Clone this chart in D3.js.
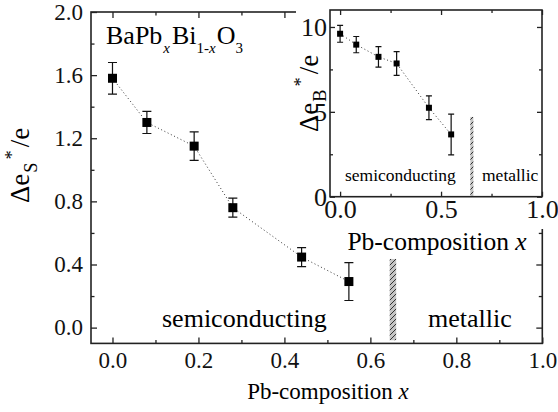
<!DOCTYPE html>
<html>
<head>
<meta charset="utf-8">
<script src="https://cdn.jsdelivr.net/npm/d3@7"></script>
<style>
  body { margin: 0; background: #fff; }
</style>
</head>
<body>
<div id="chart"></div>
<script>
// main panel: charge spread from S-signal
const compX = [0.0, 0.08, 0.19, 0.28, 0.44, 0.55]
const deltaS = [1.58, 1.30, 1.15, 0.76, 0.447, 0.292]
const deltaSErr = [0.10, 0.07, 0.09, 0.06, 0.06, 0.12]

// inset: charge spread from B-signal
const deltaB = [9.6, 8.96, 8.24, 7.85, 5.24, 3.67]
const deltaBErr = [0.5, 0.48, 0.6, 0.7, 0.7, 1.2]

// the semiconductor / metal boundary (hatched bar)
const boundaryX = [0.645, 0.66]
const boundaryMainY = [-0.08, 0.435]
const boundaryInsetY = [0, 4.7]

const mainXTicks = [0, 0.2, 0.4, 0.6, 0.8, 1.0]
const mainXMinor = [0.1, 0.3, 0.5, 0.7, 0.9]
const mainYTicks = [0, 0.4, 0.8, 1.2, 1.6, 2.0]
const mainYMinor = [0.2, 0.6, 1.0, 1.4, 1.8]
const insetXTicks = [0, 0.5, 1.0]
const insetXMinor = [0.25, 0.75]
const insetYTicks = [0, 5, 10]
const insetYMinor = [2.5, 7.5]

const W = 558, H = 412
const SERIF = "'Liberation Serif', 'Times New Roman', Times, serif"

const svg = d3.select("#chart").append("svg")
    .attr("width", W)
    .attr("height", H)
    .style("font-family", SERIF)

const defs = svg.append("defs")
const pat = defs.append("pattern")
    .attr("id", "hatch")
    .attr("patternUnits", "userSpaceOnUse")
    .attr("width", 5).attr("height", 5)
pat.append("rect").attr("width", 5).attr("height", 5).attr("fill", "#c4c4c4")
pat.append("path")
    .attr("d", "M-1,6 L6,-1 M-1,1 L1,-1 M4,6 L6,4")
    .attr("stroke", "#333").attr("stroke-width", 1)

// framed panel with inside ticks on all four sides
function panel(g, x, y, o) {
    const x0 = x.range()[0], x1 = x.range()[1]
    const y0 = y.range()[0], y1 = y.range()[1]

    const axes = [
        [d3.axisBottom(x), y0, 0, o.xTicks, o.xMinor, true],
        [d3.axisTop(x), y1, 0, o.xTicks, o.xMinor, false],
        [d3.axisLeft(y), x0, 1, o.yTicks, o.yMinor, true],
        [d3.axisRight(y), x1, 1, o.yTicks, o.yMinor, false]
    ]
    axes.forEach(([ax, pos, vert, maj, min, lab]) => {
        const tr = vert ? `translate(${pos},0)` : `translate(0,${pos})`
        const a = g.append("g").attr("transform", tr)
            .call(ax.tickValues(maj).tickSize(-o.major).tickPadding(o.pad)
                .tickFormat(lab ? (vert ? o.yFmt : o.xFmt) : ""))
        a.select(".domain").remove()
        a.selectAll("line").attr("stroke", "#222").attr("stroke-width", 1.3)
        a.selectAll("text")
            .style("font-family", SERIF).style("font-size", o.fs + "px")
            .attr("fill", "#111")
        const m = g.append("g").attr("transform", tr)
            .call(ax.tickValues(min).tickSize(-o.minor).tickFormat(""))
        m.select(".domain").remove()
        m.selectAll("line").attr("stroke", "#222").attr("stroke-width", 1.3)
    })
    g.append("rect")
        .attr("x", x0).attr("y", y1)
        .attr("width", x1 - x0).attr("height", y0 - y1)
        .attr("fill", "none").attr("stroke", "#222").attr("stroke-width", 1.6)
}

function series(g, x, y, ys, errs, sq, cap) {
    const line = d3.line().x((d, i) => x(compX[i])).y(d => y(d))
    g.append("path")
        .attr("d", line(ys))
        .attr("fill", "none").attr("stroke", "#333")
        .attr("stroke-width", 1).attr("stroke-dasharray", "1,2.6")
    ys.forEach((v, i) => {
        const cx = x(compX[i])
        const top = y(v + errs[i]), bot = y(v - errs[i])
        g.append("path")
            .attr("d", `M${cx},${top}V${bot}M${cx - cap},${top}H${cx + cap}M${cx - cap},${bot}H${cx + cap}`)
            .attr("stroke", "#111").attr("stroke-width", 1.2).attr("fill", "none")
        g.append("rect")
            .attr("x", cx - sq / 2).attr("y", y(v) - sq / 2)
            .attr("width", sq).attr("height", sq).attr("fill", "#000")
    })
}

function txt(g, x, y, size, str) {
    return g.append("text").attr("x", x).attr("y", y)
        .style("font-family", SERIF).style("font-size", size + "px").text(str)
}

// ylabel like  Δe_S^*/e  (rotated)
function deltaLabel(g, x, y, size, sub) {
    const t = g.append("text").attr("transform", `translate(${x},${y}) rotate(-90)`)
        .style("font-family", SERIF).style("font-size", size + "px")
    t.append("tspan").text("\u0394e")
    t.append("tspan").style("font-size", (size * 0.68) + "px").attr("dy", size * 0.3).attr("dx", 1).text(sub)
    t.append("tspan").style("font-size", (size * 0.68) + "px").attr("dy", -size * 0.72).attr("dx", 3).text("*")
    t.append("tspan").attr("dy", size * 0.42).attr("dx", 3).text("/e")
}

// ---------- main panel
const xScale = d3.scaleLinear().domain([-0.05, 1.0]).range([91, 542.3])
const yScale = d3.scaleLinear().domain([-0.1, 2.0]).range([343.4, 12])
const main = svg.append("g")

main.append("rect")
    .attr("x", xScale(boundaryX[0])).attr("y", yScale(boundaryMainY[1]))
    .attr("width", xScale(boundaryX[1]) - xScale(boundaryX[0]))
    .attr("height", yScale(boundaryMainY[0]) - yScale(boundaryMainY[1]))
    .attr("fill", "url(#hatch)")

panel(main, xScale, yScale, {
    xTicks: mainXTicks, xMinor: mainXMinor, yTicks: mainYTicks, yMinor: mainYMinor,
    major: 6, minor: 3.5, pad: 8, fs: 23,
    xFmt: d3.format(".1f"), yFmt: d3.format(".1f")
})
series(main, xScale, yScale, deltaS, deltaSErr, 9, 4.5)

txt(main, 162, 327, 26, "semiconducting")
txt(main, 428, 327, 26, "metallic")

const title = txt(main, 106, 44, 26, "BaPb")
title.append("tspan").style("font-size", "15px").style("font-style", "italic").attr("dy", 9).attr("dx", 1).text("x")
title.append("tspan").attr("dy", -9).attr("dx", 2).text("Bi")
title.append("tspan").style("font-size", "15px").attr("dy", 9).text("1-")
title.append("tspan").style("font-size", "15px").style("font-style", "italic").text("x")
title.append("tspan").attr("dy", -9).attr("dx", 1).text("O")
title.append("tspan").style("font-size", "15px").attr("dy", 9).text("3")

const xl = txt(main, 328, 399, 23, "Pb-composition ").attr("text-anchor", "middle")
xl.append("tspan").style("font-style", "italic").text("x")

deltaLabel(main, 29, 203, 27, "S")

// ---------- inset
const inset = svg.append("g")
inset.append("rect").attr("x", 296).attr("y", 0).attr("width", W - 296).attr("height", 229)
    .attr("fill", "#fff")

const xi = d3.scaleLinear().domain([-0.05, 1.0]).range([330, 542])
const yi = d3.scaleLinear().domain([0, 11]).range([196.7, 10])

inset.append("rect")
    .attr("x", xi(boundaryX[0])).attr("y", yi(boundaryInsetY[1]))
    .attr("width", xi(boundaryX[1]) - xi(boundaryX[0]))
    .attr("height", yi(boundaryInsetY[0]) - yi(boundaryInsetY[1]))
    .attr("fill", "url(#hatch)")

panel(inset, xi, yi, {
    xTicks: insetXTicks, xMinor: insetXMinor, yTicks: insetYTicks, yMinor: insetYMinor,
    major: 5, minor: 3, pad: 3, fs: 26,
    xFmt: d3.format(".1f"), yFmt: d3.format("d")
})
series(inset, xi, yi, deltaB, deltaBErr, 6, 3)

txt(inset, 345, 181, 17.5, "semiconducting")
txt(inset, 482, 181, 17.5, "metallic")

const xil = txt(inset, 437, 250, 25.5, "Pb-composition ").attr("text-anchor", "middle")
xil.append("tspan").style("font-style", "italic").text("x")

deltaLabel(inset, 318, 132, 27, "B")
</script>
</body>
</html>
